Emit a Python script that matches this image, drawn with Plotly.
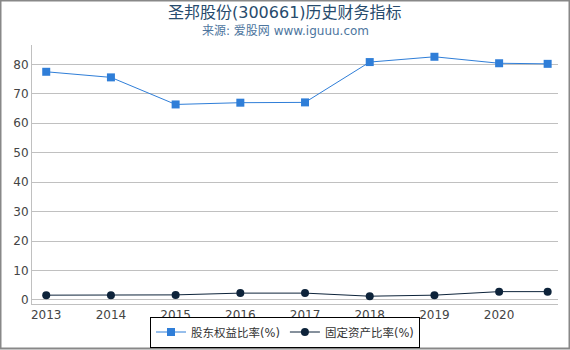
import plotly.graph_objects as go

years = [2013, 2014, 2015, 2016, 2017, 2018, 2019, 2020, 2020.75]
tick_vals = [2013, 2014, 2015, 2016, 2017, 2018, 2019, 2020]
tick_text = ["2013", "2014", "2015", "2016", "2017", "2018", "2019", "2020"]
equity_ratio = [77.5, 75.6, 66.4, 67.0, 67.1, 80.8, 82.6, 80.4, 80.2]
fixed_asset_ratio = [1.6, 1.6, 1.7, 2.3, 2.3, 1.25, 1.6, 2.8, 2.8]

FONT = "DejaVu Sans, Noto Sans CJK SC, sans-serif"

fig = go.Figure()
fig.add_trace(go.Scatter(
    x=years, y=equity_ratio, name="股东权益比率(%)", mode="lines+markers",
    line=dict(color="#2f7ed8", width=1),
    marker=dict(symbol="square", size=8, color="#2f7ed8"),
))
fig.add_trace(go.Scatter(
    x=years, y=fixed_asset_ratio, name="固定资产比率(%)", mode="lines+markers",
    line=dict(color="#0d233a", width=1),
    marker=dict(symbol="circle", size=8, color="#0d233a"),
))

L, R, T, B = 32, 12, 45, 46
W, H = 570, 350
pw, ph = W - L - R, H - T - B

fig.update_layout(
    width=W, height=H,
    margin=dict(l=L, r=R, t=T, b=B, autoexpand=False),
    paper_bgcolor="white", plot_bgcolor="white",
    font=dict(family=FONT, size=12, color="#444"),
    showlegend=True,
    legend=dict(
        orientation="h", x=0.5, xanchor="center", xref="container",
        y=2.5 / H, yanchor="bottom", yref="container",
        bordercolor="black", borderwidth=1, font=dict(size=11.5, color="#333"),
        itemwidth=30, tracegroupgap=0,
    ),
    xaxis=dict(
        range=[2012.78, 2020.91], tickvals=tick_vals, ticktext=tick_text,
        showgrid=False, showline=True, linecolor="#c0c0c0", linewidth=1,
        ticks="", zeroline=False,
        tickfont=dict(size=12, color="#444"),
    ),
    yaxis=dict(
        range=[-1.4, 86.6], tickvals=[0, 10, 20, 30, 40, 50, 60, 70, 80],
        showgrid=True, gridcolor="#c0c0c0", gridwidth=1, zeroline=False,
        showline=True, linecolor="#c0c0c0", linewidth=1,
        ticks="", tickfont=dict(size=12, color="#444"),
    ),
    annotations=[
        dict(text="圣邦股份(300661)历史财务指标", xref="paper", yref="paper",
             x=(285 - L) / pw, y=1 + (T - 12) / ph, xanchor="center", yanchor="middle",
             showarrow=False, font=dict(size=16, color="#274b6d", family=FONT)),
        dict(text="来源: 爱股网 www.iguuu.com", xref="paper", yref="paper",
             x=(285 - L) / pw, y=1 + (T - 31) / ph, xanchor="center", yanchor="middle",
             showarrow=False, font=dict(size=12, color="#4d759e", family=FONT)),
    ],
    shapes=[
        dict(type="rect", xref="paper", yref="paper",
             x0=(0.5 - L) / pw, x1=(569.5 - L) / pw,
             y0=-(B - 1.5) / ph, y1=1 + (T - 0.5) / ph,
             line=dict(color="#888888", width=2), fillcolor="rgba(0,0,0,0)", layer="below"),
    ],
)

fig.write_html("out.html")
